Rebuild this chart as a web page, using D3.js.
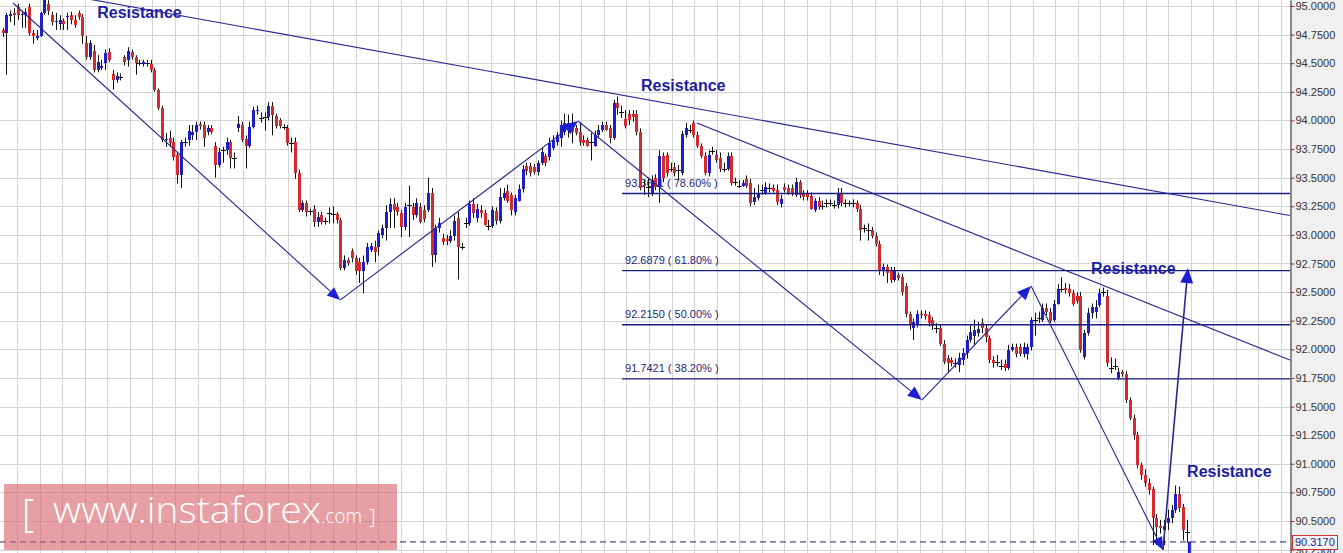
<!DOCTYPE html>
<html><head><meta charset="utf-8">
<script src="https://cdn.jsdelivr.net/npm/d3@7"></script>
<style>html,body{margin:0;padding:0;background:#fff;overflow:hidden}svg{display:block}</style>
</head><body><svg id="c" width="1343" height="553"></svg>
<script>
// ---------- DATA ----------
const open = [94.79,94.76,94.91,94.94,94.99,94.92,94.92,94.99,94.76,94.72,94.74,94.94,95.02,94.92,94.86,94.84,94.87,94.90,94.92,94.88,94.94,94.90,94.68,94.55,94.61,94.44,94.46,94.50,94.60,94.41,94.35,94.38,
94.55,94.53,94.60,94.55,94.50,94.49,94.50,94.49,94.44,94.27,94.11,93.83,93.85,93.81,93.70,93.52,93.81,93.83,93.87,93.90,93.97,93.96,93.90,93.93,93.78,93.61,93.74,93.74,93.81,93.67,93.93,93.96,93.84,93.78,93.94,94.08,94.02,94.03,94.03,94.13,94.04,94.00,93.94,93.93,93.80,93.81,93.54,
93.22,93.28,93.21,93.23,93.11,93.17,93.12,93.19,93.18,93.18,93.13,92.71,92.78,92.86,92.80,92.76,92.68,
92.76,92.87,92.89,92.89,93.00,93.06,93.20,93.27,93.24,93.19,93.07,93.26,93.24,93.17,93.24,93.22,93.22,93.37,92.82,93.06,92.97,92.96,92.95,92.99,93.15,92.89,93.10,93.10,93.27,93.15,93.22,93.19,93.08,93.08,93.21,93.12,93.32,93.38,93.35,93.20,93.30,93.40,93.60,93.60,93.59,93.55,93.63,93.69,93.68,93.76,93.81,93.85,93.90,93.92,93.98,93.93,93.90,93.83,93.83,93.81,93.78,93.87,93.92,93.96,93.93,93.85,94.15,94.07,
94.01,94.06,94.06,94.06,93.90,93.44,93.42,93.37,93.50,93.42,93.69,93.70,93.58,93.59,93.57,93.54,93.87,93.92,93.98,93.87,93.78,93.69,93.54,93.73,93.70,93.67,93.58,93.58,93.69,93.46,93.43,93.43,93.49,93.45,93.29,93.32,93.39,93.37,93.41,93.41,
93.39,93.27,93.42,93.41,93.41,93.35,93.46,93.36,93.36,93.34,93.22,93.30,93.25,93.28,93.28,93.26,93.26,93.37,93.28,93.28,93.28,93.28,93.23,93.06,93.04,93.04,92.99,92.92,92.68,92.72,92.69,92.61,92.65,92.63,92.55,92.31,92.19,92.21,92.31,92.31,92.30,92.26,92.19,92.19,92.05,
91.92,91.91,91.88,91.86,91.91,91.97,92.08,92.12,92.14,92.23,92.19,92.10,91.91,91.89,91.85,91.87,91.84,91.99,92.02,92.02,91.96,91.96,92.02,92.26,92.27,92.26,92.36,92.33,92.26,92.40,92.53,92.54,92.53,92.49,92.47,92.47,91.93,92.14,92.32,92.33,92.39,92.50,92.47,91.84,91.85,91.75,91.80,91.78,
91.56,91.40,91.25,90.99,90.90,90.83,90.78,90.53,90.46,90.42,90.48,90.53,90.60,90.74,90.62,90.40];
const high = [94.81,94.94,94.96,94.98,95.02,94.96,94.98,95.02,94.79,94.79,94.95,95.06,95.05,94.95,94.94,94.92,94.89,94.94,94.95,94.92,94.96,94.93,94.74,94.70,94.66,94.57,94.53,94.62,94.63,94.44,94.42,94.41,
94.57,94.64,94.62,94.57,94.53,94.53,94.53,94.53,94.46,94.28,94.13,93.89,93.91,93.85,93.72,93.83,93.85,93.96,93.96,93.99,93.99,93.99,93.96,93.96,93.81,93.76,93.77,93.85,93.83,93.72,94.04,93.99,93.87,93.99,94.12,94.13,94.07,94.07,94.16,94.16,94.06,94.02,93.97,93.96,93.85,93.85,93.57,
93.30,93.30,93.23,93.26,93.20,93.20,93.15,93.24,93.25,93.20,93.15,92.82,92.80,92.88,92.82,92.80,92.82,
92.93,92.93,92.95,93.04,93.09,93.26,93.32,93.32,93.28,93.22,93.28,93.43,93.28,93.32,93.28,93.26,93.50,93.41,93.09,93.15,93.01,93.00,93.04,93.17,93.20,92.93,93.15,93.30,93.32,93.27,93.26,93.22,93.13,93.25,93.24,93.41,93.41,93.44,93.37,93.35,93.44,93.61,93.63,93.63,93.62,93.65,93.76,93.71,93.85,93.87,93.90,94.00,94.06,94.05,94.06,93.96,93.98,93.87,93.85,93.89,93.91,93.96,93.99,93.99,93.96,94.18,94.21,94.13,
94.09,94.09,94.09,94.09,93.93,93.48,93.50,93.52,93.53,93.74,93.72,93.72,93.63,93.63,93.61,93.91,93.98,93.96,94.00,93.90,93.80,93.72,93.74,93.77,93.74,93.72,93.63,93.72,93.72,93.50,93.48,93.48,93.52,93.49,93.41,93.44,93.44,93.46,93.45,93.44,
93.44,93.35,93.45,93.44,93.44,93.50,93.48,93.39,93.39,93.37,93.32,93.33,93.30,93.31,93.31,93.30,93.41,93.41,93.31,93.30,93.31,93.30,93.26,93.09,93.10,93.07,93.02,92.95,92.75,92.74,92.72,92.72,92.67,92.66,92.58,92.33,92.27,92.34,92.34,92.34,92.33,92.28,92.23,92.22,92.08,
91.95,91.93,91.92,91.97,92.01,92.12,92.21,92.26,92.24,92.27,92.22,92.12,91.94,91.95,91.91,91.91,92.04,92.05,92.05,92.05,92.06,92.05,92.28,92.32,92.33,92.40,92.40,92.36,92.43,92.57,92.63,92.58,92.57,92.52,92.50,92.50,92.17,92.36,92.40,92.43,92.53,92.54,92.52,91.93,91.92,91.84,91.82,91.81,
91.58,91.43,91.28,91.01,90.95,90.87,90.80,90.56,90.51,90.51,90.60,90.64,90.81,90.80,90.65,90.51];
const low = [94.73,94.40,94.86,94.83,94.88,94.81,94.81,94.74,94.67,94.70,94.73,94.92,94.92,94.83,94.79,94.79,94.79,94.79,94.84,94.81,94.88,94.67,94.53,94.53,94.42,94.42,94.44,94.44,94.51,94.27,94.33,94.35,
94.48,94.47,94.53,94.40,94.48,94.47,94.47,94.42,94.25,94.09,93.81,93.77,93.77,93.65,93.45,93.41,93.77,93.78,93.83,93.83,93.92,93.77,93.87,93.88,93.50,93.59,93.63,93.70,93.58,93.58,93.90,93.81,93.58,93.76,93.93,94.05,93.98,93.91,94.00,93.87,93.93,93.93,93.92,93.78,93.72,93.49,93.20,
93.20,93.16,93.17,93.07,93.07,93.09,93.09,93.10,93.10,93.10,92.69,92.69,92.73,92.76,92.65,92.58,92.49,
92.74,92.85,92.76,92.82,92.97,92.95,93.06,93.06,93.17,92.98,93.04,92.98,93.13,93.15,93.10,93.11,93.20,92.72,92.76,93.02,92.91,92.91,92.93,92.95,92.61,92.87,93.06,93.08,93.15,93.11,93.15,93.08,93.04,93.06,93.09,93.10,93.30,93.28,93.17,93.17,93.29,93.37,93.52,93.51,93.53,93.52,93.61,93.60,93.65,93.74,93.78,93.77,93.87,93.85,93.80,93.87,93.78,93.78,93.77,93.65,93.77,93.85,93.90,93.91,93.80,93.83,94.05,94.02,
93.93,93.96,93.99,93.87,93.39,93.35,93.33,93.34,93.39,93.28,93.46,93.51,93.55,93.51,93.48,93.52,93.85,93.89,93.85,93.76,93.67,93.52,93.51,93.70,93.63,93.55,93.55,93.56,93.43,93.43,93.41,93.42,93.41,93.25,93.26,93.30,93.35,93.35,93.37,93.37,
93.26,93.24,93.37,93.35,93.34,93.33,93.32,93.30,93.30,93.22,93.20,93.22,93.22,93.24,93.25,93.23,93.23,93.25,93.24,93.25,93.24,93.20,92.95,93.02,92.95,92.97,92.90,92.65,92.64,92.58,92.58,92.59,92.60,92.47,92.28,92.17,92.08,92.19,92.27,92.26,92.20,92.17,92.14,92.03,91.87,
91.80,91.85,91.84,91.80,91.86,91.92,92.06,92.04,92.11,92.14,92.06,91.88,91.84,91.85,91.82,91.81,91.82,91.98,91.93,91.94,91.93,91.91,91.99,92.12,92.23,92.24,92.30,92.23,92.24,92.39,92.50,92.49,92.46,92.38,92.40,91.97,91.91,92.12,92.27,92.27,92.37,92.46,91.85,91.79,91.82,91.73,91.76,91.53,
91.38,91.21,90.96,90.86,90.80,90.73,90.29,90.29,90.39,90.29,90.42,90.48,90.57,90.58,90.33,90.31];
const close = [94.76,94.92,94.93,94.92,94.92,94.93,94.95,94.76,94.74,94.74,94.94,95.05,94.96,94.86,94.87,94.88,94.84,94.91,94.88,94.83,94.90,94.74,94.55,94.68,94.44,94.51,94.48,94.59,94.53,94.35,94.39,94.38,
94.51,94.61,94.55,94.50,94.50,94.51,94.50,94.44,94.27,94.11,93.83,93.84,93.80,93.68,93.52,93.81,93.81,93.91,93.90,93.96,93.95,93.85,93.93,93.90,93.61,93.72,93.74,93.81,93.67,93.67,93.97,93.83,93.78,93.94,94.09,94.09,94.02,94.03,94.13,94.05,93.95,93.95,93.94,93.80,93.80,93.54,93.22,
93.28,93.20,93.21,93.11,93.16,93.11,93.12,93.19,93.18,93.13,92.71,92.78,92.75,92.80,92.68,92.68,92.76,
92.89,92.90,92.85,93.02,93.06,93.20,93.27,93.22,93.20,93.07,93.24,93.26,93.17,93.28,93.11,93.14,93.37,92.82,93.06,93.10,92.94,92.95,92.99,93.12,92.89,92.89,93.10,93.27,93.19,93.23,93.19,93.09,93.08,93.22,93.12,93.33,93.37,93.30,93.22,93.32,93.40,93.58,93.56,93.54,93.55,93.63,93.72,93.63,93.80,93.83,93.87,93.96,93.98,93.98,93.90,93.89,93.81,93.80,93.78,93.81,93.87,93.92,93.96,93.92,93.85,94.15,94.11,94.07,
93.95,94.00,94.03,93.90,93.41,93.43,93.42,93.48,93.42,93.69,93.50,93.54,93.58,93.54,93.57,93.88,93.93,93.92,93.87,93.78,93.69,93.54,93.70,93.73,93.65,93.58,93.58,93.69,93.45,93.46,93.43,93.45,93.43,93.28,93.33,93.37,93.39,93.42,93.41,93.38,
93.29,93.31,93.39,93.37,93.37,93.46,93.35,93.33,93.33,93.23,93.30,93.24,93.25,93.28,93.28,93.26,93.37,93.28,93.28,93.28,93.28,93.23,93.04,93.06,93.04,92.99,92.92,92.68,92.72,92.67,92.61,92.69,92.62,92.50,92.31,92.21,92.24,92.31,92.30,92.29,92.23,92.20,92.19,92.05,91.89,
91.88,91.88,91.88,91.92,91.97,92.08,92.15,92.17,92.18,92.19,92.11,91.91,91.88,91.89,91.85,91.84,91.99,92.02,91.96,91.96,92.02,92.02,92.26,92.26,92.27,92.36,92.33,92.25,92.40,92.53,92.53,92.52,92.49,92.40,92.42,91.99,92.14,92.32,92.37,92.37,92.49,92.50,91.88,91.84,91.85,91.80,91.78,91.56,
91.40,91.25,90.99,90.90,90.83,90.77,90.53,90.45,90.44,90.46,90.53,90.60,90.74,90.61,90.42,90.40];

const priceTicks = [95.0,94.75,94.5,94.25,94.0,93.75,93.5,93.25,93.0,92.75,92.5,92.25,92.0,91.75,91.5,91.25,91.0,90.75,90.5,90.25];
const fibLevels = [93.3611, 92.6879, 92.2150, 91.7421];
const fibLabels = ["93.3611 ( 78.60% )", "92.6879 ( 61.80% )", "92.2150 ( 50.00% )", "91.7421 ( 38.20% )"];
const fibStartIndex = 163.2;
const lastPrice = 90.3170;
// trend lines: [startIndex, startPrice, endIndex, endPrice]
const trendLines = [[0, 95.196, 339.2, 93.169], [182.95, 93.977, 339.2, 91.906]];
// wave arrows: [startIndex, startPrice, endIndex, endPrice, headSize]
const waveArrows = [
  [2.71, 95.026, 88.9, 92.43, 11],
  [88.9, 92.43, 151.6, 93.995, 12],
  [151.6, 93.995, 242.2, 91.557, 12],
  [242.2, 91.557, 270.97, 92.553, 12],
  [270.97, 92.553, 305.75, 90.246, 11],
  [305.75, 90.246, 312.33, 92.71, 13]
];
const markerSeg = [312.7, 90.32, 312.7, 90.19];
const labelTexts = ["Resistance", "Resistance", "Resistance", "Resistance"];
const labelIndex = [24.9, 168.2, 286.8, 312.1];
const labelPrice = [94.892, 94.257, 92.658, 90.884];

// ---------- CHART ----------
const W = 1343, H = 553, plotR = 1290;
const N = close.length;
const svg = d3.select('#c');
const x = d3.scaleLinear().domain([0, N - 1]).range([2.7, 1186.7]);
const y = d3.scaleLinear().domain([90.2202, 95.0524]).range([H, 0]);

svg.append('defs').append('clipPath').attr('id', 'clip')
  .append('rect').attr('x', 0).attr('y', 0).attr('width', plotR).attr('height', H);

svg.append('rect').attr('width', W).attr('height', H).attr('fill', '#ffffff');
svg.append('rect').attr('x', plotR).attr('width', W - plotR).attr('height', H).attr('fill', '#f0f0f0');

const plot = svg.append('g').attr('clip-path', 'url(#clip)');

// grid
const gridStep = 22.57 / (x(1) - x(0));
const gridStart = x.invert(17);
const vGrid = d3.range(gridStart, x.invert(plotR), gridStep);
plot.append('g').selectAll('line').data(vGrid).join('line')
  .attr('x1', d => Math.round(x(d)) + 0.5).attr('x2', d => Math.round(x(d)) + 0.5)
  .attr('y1', 0).attr('y2', H).attr('stroke', '#d4d4d4').attr('stroke-width', 1);
plot.append('g').selectAll('line').data(priceTicks).join('line')
  .attr('x1', 0).attr('x2', plotR)
  .attr('y1', d => Math.round(y(d)) + 0.5).attr('y2', d => Math.round(y(d)) + 0.5)
  .attr('stroke', '#d4d4d4').attr('stroke-width', 1);

// fib labels (under candles)
plot.append('g').selectAll('text').data(fibLevels).join('text')
  .attr('x', x(fibStartIndex) + 3).attr('y', d => y(d) - 7)
  .attr('font-family', 'Liberation Sans, Arial, sans-serif').attr('font-size', 11)
  .attr('fill', '#1f1f78').text((d, i) => fibLabels[i]);

// candles
const cg = plot.append('g');
const idx = d3.range(N);
cg.selectAll('line.w').data(idx).join('line').attr('class', 'w')
  .attr('x1', i => Math.round(x(i)) + 0.5).attr('x2', i => Math.round(x(i)) + 0.5)
  .attr('y1', i => y(high[i])).attr('y2', i => y(low[i]))
  .attr('stroke', '#111').attr('stroke-width', 1);
cg.selectAll('rect.b').data(idx).join('rect').attr('class', 'b')
  .attr('x', i => Math.round(x(i)) - 1 - (open[i] === close[i] ? 1 : 0))
  .attr('width', i => open[i] === close[i] ? 5 : 3)
  .attr('y', i => Math.round(y(Math.max(open[i], close[i]))))
  .attr('height', i => Math.max(1, Math.round(y(Math.min(open[i], close[i]))) - Math.round(y(Math.max(open[i], close[i])))))
  .attr('fill', i => close[i] > open[i] ? '#1e1ec8' : (close[i] < open[i] ? '#d52a2e' : '#111'));

// fib lines
plot.append('g').selectAll('line').data(fibLevels).join('line')
  .attr('x1', x(fibStartIndex)).attr('x2', plotR)
  .attr('y1', d => y(d)).attr('y2', d => y(d))
  .attr('stroke', '#1c1c86').attr('stroke-width', 1.4);

// trend lines
plot.append('g').selectAll('line').data(trendLines).join('line')
  .attr('x1', d => x(d[0])).attr('y1', d => y(d[1]))
  .attr('x2', d => x(d[2])).attr('y2', d => y(d[3]))
  .attr('stroke', '#262690').attr('stroke-width', 1.1);

// wave arrows
const ag = plot.append('g');
waveArrows.forEach((a, k) => {
  const x1 = x(a[0]), y1 = y(a[1]), x2 = x(a[2]), y2 = y(a[3]);
  const ang = Math.atan2(y2 - y1, x2 - x1);
  const L = a[4] + 2, hw = a[4] * 0.5;
  const bx = x2 - L * Math.cos(ang), by = y2 - L * Math.sin(ang);
  ag.append('line').attr('x1', x1).attr('y1', y1).attr('x2', bx).attr('y2', by)
    .attr('stroke', '#262690').attr('stroke-width', k === 5 ? 1.6 : 1.1);
  const p = [[x2, y2],
    [bx + hw * Math.sin(ang), by - hw * Math.cos(ang)],
    [bx - hw * Math.sin(ang), by + hw * Math.cos(ang)]];
  ag.append('path').attr('d', d3.line()(p) + 'Z').attr('fill', '#1e1ed2');
});
ag.append('line').attr('x1', x(markerSeg[0])).attr('y1', y(markerSeg[1]))
  .attr('x2', x(markerSeg[2])).attr('y2', y(markerSeg[3]))
  .attr('stroke', '#1e1ed2').attr('stroke-width', 3);

// last price dashed line
plot.append('line').attr('x1', 0).attr('x2', plotR)
  .attr('y1', y(lastPrice)).attr('y2', y(lastPrice))
  .attr('stroke', '#2d1f6e').attr('stroke-width', 1).attr('stroke-dasharray', '6,4');

// resistance labels
plot.append('g').selectAll('text').data(labelTexts).join('text')
  .attr('x', (d, i) => x(labelIndex[i])).attr('y', (d, i) => y(labelPrice[i]))
  .attr('font-family', 'Liberation Sans, Arial, sans-serif').attr('font-weight', 'bold')
  .attr('font-size', 16).attr('fill', '#1d1da2').text(d => d);

// watermark
const wm = svg.append('g');
wm.append('rect').attr('x', 4).attr('y', 484).attr('width', 393).attr('height', 66)
  .attr('fill', 'rgb(214,96,104)').attr('opacity', 0.6);
const wf = "'Open Sans', 'Lato', sans-serif";
wm.append('text').attr('x', 22).attr('y', 527).attr('font-family', wf).attr('font-weight', 300)
  .attr('font-size', 38).attr('fill', '#fff').text('[');
wm.append('text').attr('x', 53).attr('y', 523).attr('font-family', wf).attr('font-weight', 300)
  .attr('font-size', 37).attr('fill', '#fff').attr('textLength', 268).attr('lengthAdjust', 'spacingAndGlyphs')
  .text('www.instaforex');
wm.append('text').attr('x', 321).attr('y', 523).attr('font-family', wf).attr('font-weight', 300)
  .attr('font-size', 21).attr('fill', '#fff').attr('textLength', 41).attr('lengthAdjust', 'spacingAndGlyphs')
  .text('.com');
wm.append('text').attr('x', 369).attr('y', 524).attr('font-family', wf).attr('font-weight', 300)
  .attr('font-size', 21).attr('fill', '#fff').text(']');

// axis
const axis = d3.axisRight(y).tickValues(priceTicks).tickFormat(d3.format('.4f'))
  .tickSize(4).tickSizeOuter(0).tickPadding(1);
const ax = svg.append('g').attr('transform', `translate(${plotR + 0.5},0)`).call(axis);
ax.select('.domain').attr('stroke', '#222');
ax.selectAll('.tick line').attr('stroke', '#8a3434');
ax.selectAll('.tick text').attr('font-family', 'Liberation Sans, Arial, sans-serif')
  .attr('font-size', 11).attr('fill', '#333');

// last price box
const lp = svg.append('g');
lp.append('rect').attr('x', plotR + 2.5).attr('y', Math.round(y(lastPrice)) - 6.5).attr('width', 45).attr('height', 14)
  .attr('fill', '#f4f4f4').attr('stroke', '#c83232').attr('stroke-width', 1);
lp.append('text').attr('x', plotR + 5).attr('y', y(lastPrice) + 4.5)
  .attr('font-family', 'Liberation Sans, Arial, sans-serif').attr('font-size', 11)
  .attr('fill', '#1e1e8c').text(d3.format('.4f')(lastPrice));
</script></body></html>
